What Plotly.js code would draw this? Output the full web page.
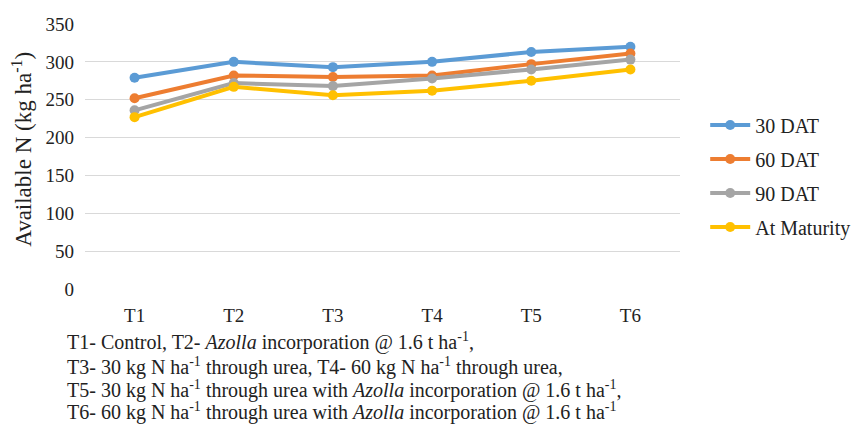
<!DOCTYPE html>
<html>
<head>
<meta charset="utf-8">
<script src="https://cdn.plot.ly/plotly-3.0.1.min.js"></script>
<style>html,body{margin:0;padding:0;background:#fff;}#chart{width:855px;height:424px;}</style>
</head>
<body>
<div id="chart"></div>
<script>
var categories = ["T1", "T2", "T3", "T4", "T5", "T6"];
var dat30 = [279, 300, 293, 300, 313, 320];
var dat60 = [252, 282, 280, 282, 297, 311];
var dat90 = [236, 272, 268, 278, 290, 303];
var maturity = [227, 267, 256, 262, 275, 290];
var seriesNames = ["30 DAT", "60 DAT", "90 DAT", "At Maturity"];
var seriesColors = ["#5B9BD5", "#ED7D31", "#A5A5A5", "#FFC000"];
var yTicks = [0, 50, 100, 150, 200, 250, 300, 350];
var yTitle = "Available N (kg ha<sup>-1</sup>)";
var footnotes = [
  "T1- Control, T2- <i>Azolla</i> incorporation @ 1.6 t ha<sup>-1</sup>,",
  "T3- 30 kg N ha<sup>-1</sup> through urea, T4- 60 kg N ha<sup>-1</sup> through urea,",
  "T5- 30 kg N ha<sup>-1</sup> through urea with <i>Azolla</i> incorporation @ 1.6 t ha<sup>-1</sup>,",
  "T6- 60 kg N ha<sup>-1</sup> through urea with <i>Azolla</i> incorporation @ 1.6 t ha<sup>-1</sup>"
];

var allSeries = [dat30, dat60, dat90, maturity];
var FONT = "Liberation Serif";
var traces = allSeries.map(function (vals, i) {
  return {
    x: categories, y: vals, type: "scatter", mode: "lines+markers",
    name: seriesNames[i], legendgroup: "g" + i,
    line: {color: seriesColors[i], width: 4},
    marker: {color: seriesColors[i], size: 10}
  };
});

var footY = [-0.197, -0.292, -0.378, -0.463];
var annotations = footnotes.map(function (t, i) {
  return {
    text: t, xref: "paper", yref: "paper", x: -0.034, y: footY[i],
    xanchor: "left", yanchor: "middle", showarrow: false, align: "left",
    font: {family: FONT, size: 20, color: "#222"}
  };
});
annotations.push({
  text: yTitle, xref: "paper", yref: "paper", x: -0.1064, y: 0.528,
  xanchor: "center", yanchor: "middle", textangle: -90, showarrow: false,
  font: {family: FONT, size: 23, color: "#222"}
});

var layout = {
  width: 855, height: 424,
  margin: {l: 85, r: 175, t: 24, b: 135},
  paper_bgcolor: "#fff", plot_bgcolor: "#fff",
  font: {family: FONT, size: 19, color: "#222"},
  showlegend: true,
  legend: {xref: "container", yref: "container", x: 0.8248, y: 0.751,
           xanchor: "left", yanchor: "top", traceorder: "grouped",
           tracegroupgap: 5, itemwidth: 40,
           font: {family: FONT, size: 20, color: "#222"}},
  xaxis: {type: "category", range: [-0.5, 5.5], showgrid: false, zeroline: false,
          showline: false, ticks: "", ticklabelstandoff: 13, tickfont: {size: 19}},
  yaxis: {range: [0, 350], tickvals: yTicks, showgrid: true, gridcolor: "#D9D9D9",
          gridwidth: 1, zeroline: false, showline: false, ticks: "",
          ticklabelstandoff: 10, tickfont: {size: 19}},
  annotations: annotations
};

Plotly.newPlot("chart", traces, layout, {displayModeBar: false});
</script>
</body>
</html>
